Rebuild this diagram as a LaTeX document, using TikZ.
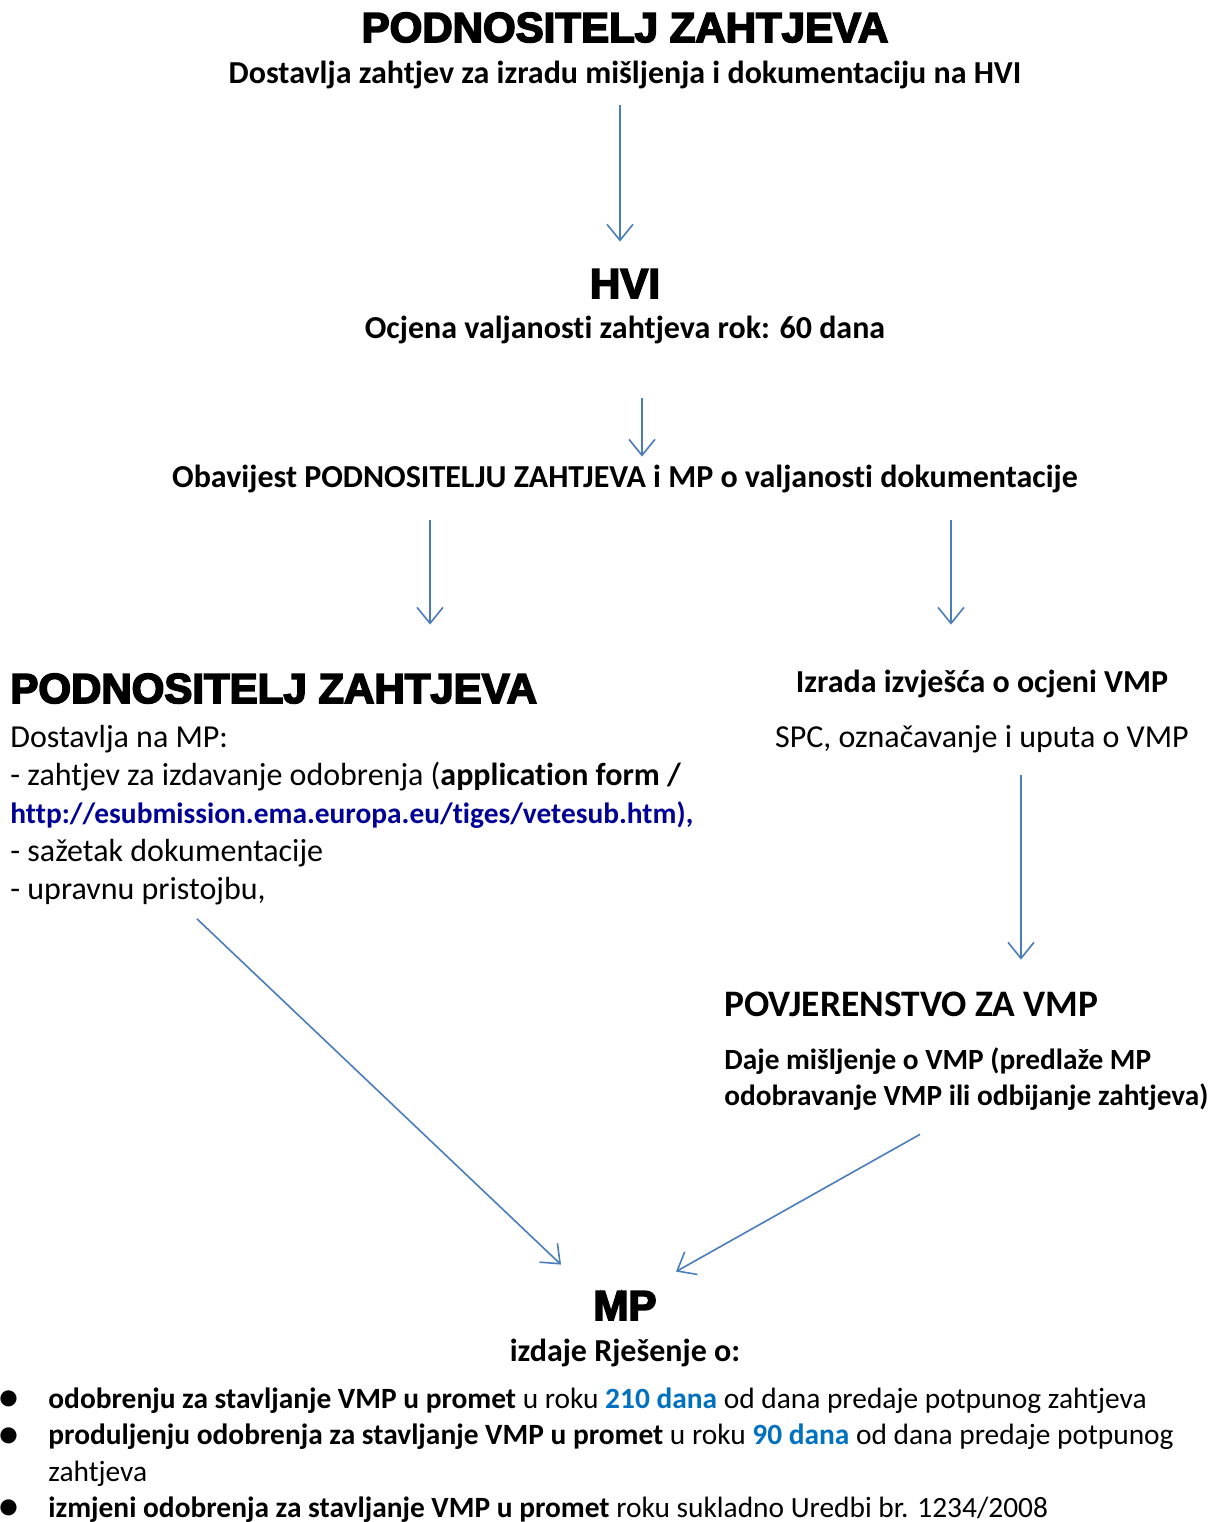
\documentclass[tikz,border=0pt]{standalone}
\usepackage{fontspec}
\setmainfont[Ligatures=NoCommon]{Carlito}
\newfontfamily\blackfont[BoldFeatures={FakeBold=4}]{Liberation Sans}
\usetikzlibrary{arrows.meta,positioning}
\definecolor{arrowblue}{RGB}{74,126,187}
\definecolor{linkblue}{RGB}{0,0,150}
\definecolor{danablue}{RGB}{0,112,192}

\begin{document}
\begin{tikzpicture}[
  x=0.5pt, y=-0.5pt,
  heavy/.style={inner sep=0, font=\blackfont\bfseries\fontsize{21}{25}\selectfont, text height=15pt, text depth=0pt},
  txt/.style={inner sep=0, font=\fontsize{16}{19}\selectfont, text height=11pt, text depth=3.5pt},
  btxt/.style={txt, font=\bfseries\fontsize{16}{19}\selectfont},
  txtblock/.style={inner sep=0, align=left, font=\fontsize{16}{19}\selectfont},
  itm/.style={inner sep=0, align=left, font=\fontsize{14.7}{18.25}\selectfont},
  dot/.style={txt, font=\bfseries\fontsize{19}{19}\selectfont},
  arr/.style={-{Straight Barb[length=8pt,width=13pt]}, draw=arrowblue, line width=0.8pt}
]
  \fill[white] (0,0) rectangle (1213,1522);
  \useasboundingbox (0,0) rectangle (1213,1522);

  % --- 1. REQUEST AND VALIDATION (Top) ---
  \node[heavy, anchor=base] (appl) at (625,42) {PODNOSITELJ ZAHTJEVA};
  \node[btxt, anchor=base] (reqtxt) at (625,83) {Dostavlja zahtjev za izradu mišljenja i dokumentaciju na HVI};
  \node[heavy, anchor=base] (hvi) at (625,298) {HVI};
  \node[btxt, anchor=base] (hvisub) at (625,338) {Ocjena valjanosti zahtjeva rok: 60 dana};
  \node[btxt, anchor=base] (notice) at (625,487) {Obavijest PODNOSITELJU ZAHTJEVA i MP o valjanosti dokumentacije};

  \draw[arr, shorten <=7.5pt, shorten >=13pt] ([xshift=-2.5pt]reqtxt.south) -- ([xshift=-2.5pt]hvi.north);
  \draw[arr, shorten <=26.5pt, shorten >=4pt] ([xshift=8.5pt]hvisub.south) -- ([xshift=8.5pt]notice.north);

  % --- 2. TWO BRANCHES (Middle) ---
  \node[heavy, anchor=base west] (subhead) at (10,703) {PODNOSITELJ ZAHTJEVA};
  % multi-line nodes sit on the baseline of their last line
  \node[txtblock, anchor=base west] (subm) at (10,899)
    {Dostavlja na MP:\\
     - zahtjev za izdavanje odobrenja (\textbf{application form /}\\
     {\fontsize{14.7}{19}\selectfont\textcolor{linkblue}{\textbf{http://esubmission.ema.europa.eu/tiges/vetesub.htm),}}}\\
     - sažetak dokumentacije\\
     - upravnu pristojbu,};

  \node[btxt, anchor=base] (report) at (982,692) {Izrada izvješća o ocjeni VMP};
  \node[txt, anchor=base] (spc) at (982,747) {SPC, označavanje i uputa o VMP};

  \node[inner sep=0, anchor=base west, font=\bfseries\fontsize{18.7}{22}\selectfont, text height=12pt, text depth=0pt] (board) at (724,1016) {POVJERENSTVO ZA VMP};
  \node[txtblock, anchor=base west, font=\bfseries\fontsize{14.65}{18}\selectfont] (opinion) at (724,1105)
    {Daje mišljenje o VMP (predlaže MP\\
     odobravanje VMP ili odbijanje zahtjeva)};

  \draw[arr, shorten <=13pt, shorten >=24pt] ([xshift=-97.5pt]notice.south) -- ([xshift=210pt]subhead.north west);
  \draw[arr, shorten <=13pt, shorten >=22.5pt] ([xshift=163pt]notice.south) -- ([xshift=-15.5pt]report.north);
  \draw[arr, shorten <=10.5pt, shorten >=16pt] ([xshift=19.5pt]spc.south) -- ([xshift=148.5pt]board.north west);

  % --- 3. DECISION (Bottom) ---
  \node[heavy, anchor=base] (mp) at (625,1320) {MP};
  \node[btxt, anchor=base] (decide) at (625,1361) {izdaje Rješenje o:};

  \draw[arr] ([xshift=93.5pt,yshift=-7pt]subm.south west) -- ([xshift=-32pt,yshift=12.5pt]mp.north);
  \draw[arr] ([xshift=98pt,yshift=-12pt]opinion.south west) -- ([xshift=25.5pt,yshift=9pt]mp.north);

  \node[dot, anchor=base] (dot1) at (9,1409) {•};
  \node[dot, anchor=base] (dot2) at (9,1446) {•};
  \node[dot, anchor=base] (dot3) at (9,1518) {•};
  \node[itm, anchor=base west] (item1) at (48,1408)
    {\textbf{odobrenju za stavljanje VMP u promet} u roku \textcolor{danablue}{\textbf{210 dana}} od dana predaje potpunog zahtjeva};
  \node[itm, anchor=base west] (item2) at (48,1481)
    {\textbf{produljenju odobrenja za stavljanje VMP u promet} u roku \textcolor{danablue}{\textbf{90 dana}} od dana predaje potpunog\\
     zahtjeva};
  \node[itm, anchor=base west] (item3) at (48,1517)
    {\textbf{izmjeni odobrenja za stavljanje VMP u promet} roku sukladno Uredbi br. 1234/2008};
\end{tikzpicture}
\end{document}
